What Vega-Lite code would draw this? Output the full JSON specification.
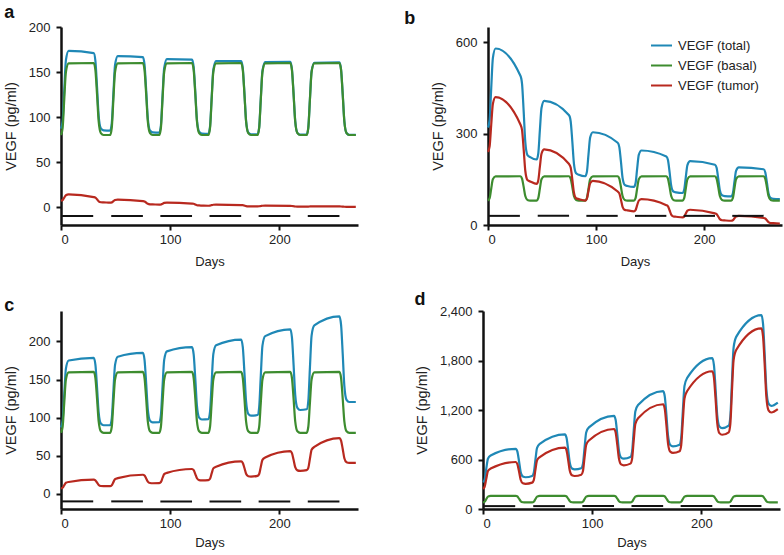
{
  "$schema": "https://vega.github.io/schema/vega-lite/v6.json",
  "padding": {"left": 3, "top": 4, "right": 1, "bottom": 2},
  "background": "white",
  "datasets": {
    "dash": [
      {"x0": 1, "x1": 29.5}, {"x0": 46, "x1": 75}, {"x0": 91, "x1": 120},
      {"x0": 136, "x1": 165}, {"x0": 181, "x1": 210}, {"x0": 226, "x1": 255}
    ],
    "a": [
      {"t":0,"basal":80,"tumor":7,"total":87},{"t":1.5,"basal":88,"tumor":7.7,"total":95.7},{"t":3,"basal":120,"tumor":10.5,"total":130.5},{"t":4.5,"basal":150,"tumor":13.1,"total":163.1},{"t":7,"basal":159.5,"tumor":14,"total":173.5},{"t":30,"basal":160,"tumor":11,"total":171},{"t":31.5,"basal":152,"tumor":10.4,"total":162.4},{"t":33,"basal":125,"tumor":8.5,"total":133.5},{"t":34.5,"basal":95,"tumor":6.3,"total":101.3},{"t":36.5,"basal":82,"tumor":5.3,"total":87.3},{"t":39,"basal":80,"tumor":5.2,"total":85.2},
      {"t":45,"basal":80,"tumor":4.8,"total":84.8},{"t":46.5,"basal":88,"tumor":5.1,"total":93.1},{"t":48,"basal":120,"tumor":6.5,"total":126.5},{"t":49.5,"basal":150,"tumor":7.8,"total":157.8},{"t":52,"basal":159.5,"tumor":8.2,"total":167.7},{"t":75,"basal":160,"tumor":6.5,"total":166.5},{"t":76.5,"basal":152,"tumor":6.1,"total":158.1},{"t":78,"basal":125,"tumor":4.9,"total":129.9},{"t":79.5,"basal":95,"tumor":3.6,"total":98.6},{"t":81.5,"basal":82,"tumor":3.0,"total":85},{"t":84,"basal":80,"tumor":2.9,"total":82.9},
      {"t":90,"basal":80,"tumor":2.6,"total":82.6},{"t":91.5,"basal":88,"tumor":2.8,"total":90.8},{"t":93,"basal":120,"tumor":3.7,"total":123.7},{"t":94.5,"basal":150,"tumor":4.5,"total":154.5},{"t":97,"basal":159.5,"tumor":4.8,"total":164.3},{"t":120,"basal":160,"tumor":3.8,"total":163.8},{"t":121.5,"basal":152,"tumor":3.6,"total":155.6},{"t":123,"basal":125,"tumor":2.8,"total":127.8},{"t":124.5,"basal":95,"tumor":2.0,"total":97},{"t":126.5,"basal":82,"tumor":1.7,"total":83.7},{"t":129,"basal":80,"tumor":1.6,"total":81.6},
      {"t":135,"basal":80,"tumor":1.4,"total":81.4},{"t":136.5,"basal":88,"tumor":1.5,"total":89.5},{"t":138,"basal":120,"tumor":2.1,"total":122.1},{"t":139.5,"basal":150,"tumor":2.5,"total":152.5},{"t":142,"basal":159.5,"tumor":2.7,"total":162.2},{"t":165,"basal":160,"tumor":2.1,"total":162.1},{"t":166.5,"basal":152,"tumor":2.0,"total":154},{"t":168,"basal":125,"tumor":1.5,"total":126.5},{"t":169.5,"basal":95,"tumor":1.0,"total":96},{"t":171.5,"basal":82,"tumor":0.8,"total":82.8},{"t":174,"basal":80,"tumor":0.8,"total":80.8},
      {"t":180,"basal":80,"tumor":0.7,"total":80.7},{"t":181.5,"basal":88,"tumor":0.8,"total":88.8},{"t":183,"basal":120,"tumor":1.1,"total":121.1},{"t":184.5,"basal":150,"tumor":1.4,"total":151.4},{"t":187,"basal":159.5,"tumor":1.5,"total":161},{"t":210,"basal":160,"tumor":1.2,"total":161.2},{"t":211.5,"basal":152,"tumor":1.1,"total":153.1},{"t":213,"basal":125,"tumor":0.85,"total":125.9},{"t":214.5,"basal":95,"tumor":0.55,"total":95.6},{"t":216.5,"basal":82,"tumor":0.4,"total":82.4},{"t":219,"basal":80,"tumor":0.4,"total":80.4},
      {"t":225,"basal":80,"tumor":0.4,"total":80.4},{"t":226.5,"basal":88,"tumor":0.45,"total":88.5},{"t":228,"basal":120,"tumor":0.6,"total":120.6},{"t":229.5,"basal":150,"tumor":0.75,"total":150.8},{"t":232,"basal":159.5,"tumor":0.8,"total":160.3},{"t":255,"basal":160,"tumor":0.6,"total":160.6},{"t":256.5,"basal":152,"tumor":0.56,"total":152.6},{"t":258,"basal":125,"tumor":0.42,"total":125.4},{"t":259.5,"basal":95,"tumor":0.28,"total":95.3},{"t":261.5,"basal":82,"tumor":0.2,"total":82.2},{"t":264,"basal":80,"tumor":0.2,"total":80.2},{"t":270,"basal":80,"tumor":0.1,"total":80.1}
    ],
    "b": [
      {"t":0,"basal":80,"tumor":240,"total":320},{"t":1.5,"basal":88,"tumor":258,"total":346},{"t":3,"basal":120,"tumor":330,"total":450},{"t":4.5,"basal":150,"tumor":397.5,"total":547.5},{"t":7,"basal":159.5,"tumor":420,"total":579.5},{"t":30,"basal":160,"tumor":330,"total":490},{"t":31.5,"basal":152,"tumor":311.3,"total":463.3},{"t":33,"basal":125,"tumor":248.2,"total":373.2},{"t":34.5,"basal":95,"tumor":178.1,"total":273.1},{"t":36.5,"basal":82,"tumor":147.7,"total":229.7},{"t":39,"basal":80,"tumor":143,"total":223},
      {"t":45,"basal":80,"tumor":135,"total":215},{"t":46.5,"basal":88,"tumor":146.3,"total":234.3},{"t":48,"basal":120,"tumor":191.5,"total":311.5},{"t":49.5,"basal":150,"tumor":233.9,"total":383.9},{"t":52,"basal":159.5,"tumor":248,"total":407.5},{"t":75,"basal":160,"tumor":200,"total":360},{"t":76.5,"basal":152,"tumor":188.5,"total":340.5},{"t":78,"basal":125,"tumor":149.7,"total":274.7},{"t":79.5,"basal":95,"tumor":106.6,"total":201.6},{"t":81.5,"basal":82,"tumor":87.9,"total":169.9},{"t":84,"basal":80,"tumor":85,"total":165},
      {"t":90,"basal":80,"tumor":80,"total":160},{"t":91.5,"basal":88,"tumor":86.5,"total":174.5},{"t":93,"basal":120,"tumor":112.5,"total":232.5},{"t":94.5,"basal":150,"tumor":136.9,"total":286.9},{"t":97,"basal":159.5,"tumor":145,"total":304.5},{"t":120,"basal":160,"tumor":110,"total":270},{"t":121.5,"basal":152,"tumor":103.8,"total":255.8},{"t":123,"basal":125,"tumor":82.9,"total":207.9},{"t":124.5,"basal":95,"tumor":59.6,"total":154.6},{"t":126.5,"basal":82,"tumor":49.6,"total":131.6},{"t":129,"basal":80,"tumor":48,"total":128},
      {"t":135,"basal":80,"tumor":45,"total":125},{"t":136.5,"basal":88,"tumor":49,"total":137},{"t":138,"basal":120,"tumor":65,"total":185},{"t":139.5,"basal":150,"tumor":80,"total":230},{"t":142,"basal":159.5,"tumor":85,"total":244.5},{"t":165,"basal":160,"tumor":65,"total":225},{"t":166.5,"basal":152,"tumor":61.2,"total":213.2},{"t":168,"basal":125,"tumor":48.4,"total":173.4},{"t":169.5,"basal":95,"tumor":34.1,"total":129.1},{"t":171.5,"basal":82,"tumor":28,"total":110},{"t":174,"basal":80,"tumor":27,"total":107},
      {"t":180,"basal":80,"tumor":25,"total":105},{"t":181.5,"basal":88,"tumor":27.5,"total":115.5},{"t":183,"basal":120,"tumor":37.5,"total":157.5},{"t":184.5,"basal":150,"tumor":46.9,"total":196.9},{"t":187,"basal":159.5,"tumor":50,"total":209.5},{"t":210,"basal":160,"tumor":38,"total":198},{"t":211.5,"basal":152,"tumor":35.7,"total":187.7},{"t":213,"basal":125,"tumor":27.9,"total":152.9},{"t":214.5,"basal":95,"tumor":19.3,"total":114.3},{"t":216.5,"basal":82,"tumor":15.6,"total":97.6},{"t":219,"basal":80,"tumor":15,"total":95},
      {"t":225,"basal":80,"tumor":14,"total":94},{"t":226.5,"basal":88,"tumor":15.6,"total":103.6},{"t":228,"basal":120,"tumor":22,"total":142},{"t":229.5,"basal":150,"tumor":28,"total":178},{"t":232,"basal":159.5,"tumor":30,"total":189.5},{"t":255,"basal":160,"tumor":23,"total":183},{"t":256.5,"basal":152,"tumor":21.3,"total":173.3},{"t":258,"basal":125,"tumor":15.6,"total":140.6},{"t":259.5,"basal":95,"tumor":9.2,"total":104.2},{"t":261.5,"basal":82,"tumor":6.4,"total":88.4},{"t":264,"basal":80,"tumor":6,"total":86},{"t":270,"basal":80,"tumor":5,"total":85}
    ],
    "c": [
      {"t":0,"basal":80,"tumor":7,"total":87},{"t":1.5,"basal":88,"tumor":7.9,"total":95.9},{"t":3,"basal":120,"tumor":11.3,"total":131.3},{"t":4.5,"basal":150,"tumor":14.4,"total":164.4},{"t":7,"basal":159.5,"tumor":15.5,"total":175},{"t":30,"basal":160,"tumor":18.5,"total":178.5},{"t":31.5,"basal":152,"tumor":17.7,"total":169.7},{"t":33,"basal":125,"tumor":14.8,"total":139.8},{"t":34.5,"basal":95,"tumor":11.6,"total":106.6},{"t":36.5,"basal":82,"tumor":10.2,"total":92.2},{"t":39,"basal":80,"tumor":10,"total":90},
      {"t":45,"basal":80,"tumor":10,"total":90},{"t":46.5,"basal":88,"tumor":11.1,"total":99.1},{"t":48,"basal":120,"tumor":15.3,"total":135.3},{"t":49.5,"basal":150,"tumor":19.2,"total":169.2},{"t":52,"basal":159.5,"tumor":20.5,"total":180},{"t":75,"basal":160,"tumor":25,"total":185},{"t":76.5,"basal":152,"tumor":23.9,"total":175.9},{"t":78,"basal":125,"tumor":20.1,"total":145.1},{"t":79.5,"basal":95,"tumor":15.9,"total":110.9},{"t":81.5,"basal":82,"tumor":14.1,"total":96.1},{"t":84,"basal":80,"tumor":13.8,"total":93.8},
      {"t":90,"basal":80,"tumor":14,"total":94},{"t":91.5,"basal":88,"tumor":15.4,"total":103.4},{"t":93,"basal":120,"tumor":20.8,"total":140.8},{"t":94.5,"basal":150,"tumor":25.8,"total":175.8},{"t":97,"basal":159.5,"tumor":27.5,"total":187},{"t":120,"basal":160,"tumor":32.5,"total":192.5},{"t":121.5,"basal":152,"tumor":31,"total":183},{"t":123,"basal":125,"tumor":25.9,"total":150.9},{"t":124.5,"basal":95,"tumor":20.3,"total":115.3},{"t":126.5,"basal":82,"tumor":17.9,"total":99.9},{"t":129,"basal":80,"tumor":17.5,"total":97.5},
      {"t":135,"basal":80,"tumor":18,"total":98},{"t":136.5,"basal":88,"tumor":19.8,"total":107.8},{"t":138,"basal":120,"tumor":26.8,"total":146.8},{"t":139.5,"basal":150,"tumor":33.3,"total":183.3},{"t":142,"basal":159.5,"tumor":35.5,"total":195},{"t":165,"basal":160,"tumor":42.5,"total":202.5},{"t":166.5,"basal":152,"tumor":40.5,"total":192.5},{"t":168,"basal":125,"tumor":33.8,"total":158.8},{"t":169.5,"basal":95,"tumor":26.3,"total":121.3},{"t":171.5,"basal":82,"tumor":23,"total":105},{"t":174,"basal":80,"tumor":22.5,"total":102.5},
      {"t":180,"basal":80,"tumor":23.5,"total":103.5},{"t":181.5,"basal":88,"tumor":25.9,"total":113.9},{"t":183,"basal":120,"tumor":35.5,"total":155.5},{"t":184.5,"basal":150,"tumor":44.5,"total":194.5},{"t":187,"basal":159.5,"tumor":47.5,"total":207},{"t":210,"basal":160,"tumor":56,"total":216},{"t":211.5,"basal":152,"tumor":53.4,"total":205.4},{"t":213,"basal":125,"tumor":44.6,"total":169.6},{"t":214.5,"basal":95,"tumor":34.9,"total":129.9},{"t":216.5,"basal":82,"tumor":30.7,"total":112.7},{"t":219,"basal":80,"tumor":30,"total":110},
      {"t":225,"basal":80,"tumor":31,"total":111},{"t":226.5,"basal":88,"tumor":34.1,"total":122.1},{"t":228,"basal":120,"tumor":46.3,"total":166.3},{"t":229.5,"basal":150,"tumor":57.7,"total":207.7},{"t":232,"basal":159.5,"tumor":61.5,"total":221},{"t":255,"basal":160,"tumor":73,"total":233},{"t":256.5,"basal":152,"tumor":69.8,"total":221.8},{"t":258,"basal":125,"tumor":58.8,"total":183.8},{"t":259.5,"basal":95,"tumor":46.6,"total":141.6},{"t":261.5,"basal":82,"tumor":41.3,"total":123.3},{"t":264,"basal":80,"tumor":40.5,"total":120.5},{"t":270,"basal":80,"tumor":40.5,"total":120.5}
    ],
    "d": [
      {"t":0,"basal":80,"tumor":245,"total":325},{"t":1.5,"basal":88,"tumor":269.5,"total":357.5},{"t":3,"basal":120,"tumor":367.5,"total":487.5},{"t":4.5,"basal":150,"tumor":459.4,"total":609.4},{"t":7,"basal":159.5,"tumor":490,"total":649.5},{"t":30,"basal":160,"tumor":570,"total":730},{"t":31.5,"basal":152,"tumor":543.5,"total":695.5},{"t":33,"basal":125,"tumor":454.1,"total":579.1},{"t":34.5,"basal":95,"tumor":354.7,"total":449.7},{"t":36.5,"basal":82,"tumor":311.6,"total":393.6},{"t":39,"basal":80,"tumor":305,"total":385},
      {"t":45,"basal":80,"tumor":320,"total":400},{"t":46.5,"basal":88,"tumor":351,"total":439},{"t":48,"basal":120,"tumor":475,"total":595},{"t":49.5,"basal":150,"tumor":591.3,"total":741.3},{"t":52,"basal":159.5,"tumor":630,"total":789.5},{"t":75,"basal":160,"tumor":745,"total":905},{"t":76.5,"basal":152,"tumor":710.5,"total":862.5},{"t":78,"basal":125,"tumor":594.1,"total":719.1},{"t":79.5,"basal":95,"tumor":464.7,"total":559.7},{"t":81.5,"basal":82,"tumor":408.6,"total":490.6},{"t":84,"basal":80,"tumor":400,"total":480},
      {"t":90,"basal":80,"tumor":415,"total":495},{"t":91.5,"basal":88,"tumor":456.5,"total":544.5},{"t":93,"basal":120,"tumor":622.5,"total":742.5},{"t":94.5,"basal":150,"tumor":778.1,"total":928.1},{"t":97,"basal":159.5,"tumor":830,"total":989.5},{"t":120,"basal":160,"tumor":970,"total":1130},{"t":121.5,"basal":152,"tumor":926,"total":1078},{"t":123,"basal":125,"tumor":777.5,"total":902.5},{"t":124.5,"basal":95,"tumor":612.5,"total":707.5},{"t":126.5,"basal":82,"tumor":541,"total":623},{"t":129,"basal":80,"tumor":530,"total":610},
      {"t":135,"basal":80,"tumor":550,"total":630},{"t":136.5,"basal":88,"tumor":605,"total":693},{"t":138,"basal":120,"tumor":825,"total":945},{"t":139.5,"basal":150,"tumor":1031.3,"total":1181.3},{"t":142,"basal":159.5,"tumor":1100,"total":1259.5},{"t":165,"basal":160,"tumor":1270,"total":1430},{"t":166.5,"basal":152,"tumor":1211,"total":1363},{"t":168,"basal":125,"tumor":1011.9,"total":1136.9},{"t":169.5,"basal":95,"tumor":790.6,"total":885.6},{"t":171.5,"basal":82,"tumor":694.8,"total":776.8},{"t":174,"basal":80,"tumor":680,"total":760},
      {"t":180,"basal":80,"tumor":700,"total":780},{"t":181.5,"basal":88,"tumor":773,"total":861},{"t":183,"basal":120,"tumor":1065,"total":1185},{"t":184.5,"basal":150,"tumor":1338.8,"total":1488.8},{"t":187,"basal":159.5,"tumor":1430,"total":1589.5},{"t":210,"basal":160,"tumor":1670,"total":1830},{"t":211.5,"basal":152,"tumor":1593,"total":1745},{"t":213,"basal":125,"tumor":1333.1,"total":1458.1},{"t":214.5,"basal":95,"tumor":1044.4,"total":1139.4},{"t":216.5,"basal":82,"tumor":919.3,"total":1001.3},{"t":219,"basal":80,"tumor":900,"total":980},
      {"t":225,"basal":80,"tumor":930,"total":1010},{"t":226.5,"basal":88,"tumor":1030,"total":1118},{"t":228,"basal":120,"tumor":1430,"total":1550},{"t":229.5,"basal":150,"tumor":1805,"total":1955},{"t":232,"basal":159.5,"tumor":1930,"total":2089.5},{"t":255,"basal":160,"tumor":2190,"total":2350},{"t":256.5,"basal":152,"tumor":2088,"total":2240},{"t":258,"basal":125,"tumor":1743.8,"total":1868.8},{"t":259.5,"basal":95,"tumor":1361.3,"total":1456.3},{"t":261.5,"basal":82,"tumor":1195.5,"total":1277.5},{"t":264,"basal":80,"tumor":1170,"total":1250},{"t":270,"basal":80,"tumor":1210,"total":1290}
    ]
  },
  "config": {
    "font": "Liberation Sans",
    "view": {"stroke": null},
    "axis": {
      "grid": false, "domainColor": "#111", "domainWidth": 2.5, "tickColor": "#111", "tickWidth": 2, "tickSize": 5,
      "labelFontSize": 13, "labelColor": "#222", "titleFontWeight": "normal", "titleColor": "#222"
    },
    "axisX": {"labelPadding": 3, "titlePadding": 9, "titleFontSize": 13},
    "axisY": {"labelPadding": 6, "titlePadding": 10, "titleFontSize": 14.5},
    "title": {"fontSize": 18, "fontWeight": "bold", "color": "#111", "anchor": "start", "frame": "bounds", "offset": -1},
    "legend": {"labelFontSize": 13, "labelColor": "#222", "symbolType": "stroke", "symbolSize": 441, "symbolStrokeWidth": 2, "rowPadding": 1, "padding": 0, "labelOffset": 5}
  },
  "resolve": {"scale": {"color": "independent"}},
  "spacing": 23,
  "vconcat": [
    {
      "resolve": {"scale": {"color": "independent"}},
      "spacing": 43,
      "hconcat": [
        {
          "width": 297, "height": 198,
          "title": {"text": "a", "dx": 1},
          "layer": [
            {
              "data": {"name": "a"},
              "transform": [{"fold": ["total", "basal", "tumor"], "as": ["series", "v"]}],
              "mark": {"type": "line", "interpolate": "monotone", "strokeWidth": 2.2},
              "encoding": {
                "x": {"field": "t", "type": "quantitative", "scale": {"domain": [0, 272], "nice": false}, "axis": {"values": [0, 100, 200], "title": "Days"}},
                "y": {"field": "v", "type": "quantitative", "scale": {"domain": [-20, 200], "nice": false}, "axis": {"values": [0, 50, 100, 150, 200], "title": "VEGF (pg/ml)"}},
                "color": {"field": "series", "type": "nominal", "scale": {"domain": ["total", "basal", "tumor"], "range": ["#1f88b6", "#3d8c2f", "#b8291f"]}, "legend": null}
              }
            },
            {
              "data": {"name": "dash"},
              "mark": {"type": "rule", "color": "#111", "strokeWidth": 2},
              "encoding": {"x": {"field": "x0", "type": "quantitative"}, "x2": {"field": "x1"}, "y": {"datum": -10}}
            }
          ]
        },
        {
          "width": 294, "height": 198,
          "title": {"text": "b", "dx": -26},
          "layer": [
            {
              "data": {"name": "b"},
              "transform": [{"fold": ["total", "basal", "tumor"], "as": ["series", "v"]}],
              "mark": {"type": "line", "interpolate": "monotone", "strokeWidth": 2.2},
              "encoding": {
                "x": {"field": "t", "type": "quantitative", "scale": {"domain": [0, 272], "nice": false}, "axis": {"values": [0, 100, 200], "title": "Days"}},
                "y": {"field": "v", "type": "quantitative", "scale": {"domain": [0, 650], "nice": false}, "axis": {"values": [0, 300, 600], "title": "VEGF (pg/ml)"}},
                "color": {"field": "series", "type": "nominal", "scale": {"domain": ["total", "basal", "tumor"], "range": ["#1f88b6", "#3d8c2f", "#b8291f"]},
                  "legend": {"title": null, "orient": "none", "legendX": 162, "legendY": 7, "labelExpr": "'VEGF (' + datum.label + ')'"}}
              }
            },
            {
              "data": {"name": "dash"},
              "mark": {"type": "rule", "color": "#111", "strokeWidth": 2},
              "encoding": {"x": {"field": "x0", "type": "quantitative"}, "x2": {"field": "x1"}, "y": {"datum": 30}}
            }
          ]
        }
      ]
    },
    {
      "resolve": {"scale": {"color": "independent"}},
      "spacing": 53,
      "hconcat": [
        {
          "width": 297, "height": 198,
          "title": {"text": "c", "dx": 1, "offset": -4},
          "layer": [
            {
              "data": {"name": "c"},
              "transform": [{"fold": ["total", "basal", "tumor"], "as": ["series", "v"]}],
              "mark": {"type": "line", "interpolate": "monotone", "strokeWidth": 2.2},
              "encoding": {
                "x": {"field": "t", "type": "quantitative", "scale": {"domain": [0, 272], "nice": false}, "axis": {"values": [0, 100, 200], "title": "Days", "titlePadding": 6}},
                "y": {"field": "v", "type": "quantitative", "scale": {"domain": [-20, 240], "nice": false}, "axis": {"values": [0, 50, 100, 150, 200], "title": "VEGF (pg/ml)"}},
                "color": {"field": "series", "type": "nominal", "scale": {"domain": ["total", "basal", "tumor"], "range": ["#1f88b6", "#3d8c2f", "#b8291f"]}, "legend": null}
              }
            },
            {
              "data": {"name": "dash"},
              "mark": {"type": "rule", "color": "#111", "strokeWidth": 2},
              "encoding": {"x": {"field": "x0", "type": "quantitative"}, "x2": {"field": "x1"}, "y": {"datum": -10}}
            }
          ]
        },
        {
          "width": 297, "height": 198,
          "title": {"text": "d", "dx": 0, "offset": -4},
          "layer": [
            {
              "data": {"name": "d"},
              "transform": [{"fold": ["total", "basal", "tumor"], "as": ["series", "v"]}],
              "mark": {"type": "line", "interpolate": "monotone", "strokeWidth": 2.2},
              "encoding": {
                "x": {"field": "t", "type": "quantitative", "scale": {"domain": [0, 272], "nice": false}, "axis": {"values": [0, 100, 200], "title": "Days", "titlePadding": 6}},
                "y": {"field": "v", "type": "quantitative", "scale": {"domain": [0, 2400], "nice": false}, "axis": {"values": [0, 600, 1200, 1800, 2400], "format": ",d", "title": "VEGF (pg/ml)"}},
                "color": {"field": "series", "type": "nominal", "scale": {"domain": ["total", "basal", "tumor"], "range": ["#1f88b6", "#3d8c2f", "#b8291f"]}, "legend": null}
              }
            },
            {
              "data": {"name": "dash"},
              "mark": {"type": "rule", "color": "#111", "strokeWidth": 2},
              "encoding": {"x": {"field": "x0", "type": "quantitative"}, "x2": {"field": "x1"}, "y": {"datum": 35}}
            }
          ]
        }
      ]
    }
  ]
}
